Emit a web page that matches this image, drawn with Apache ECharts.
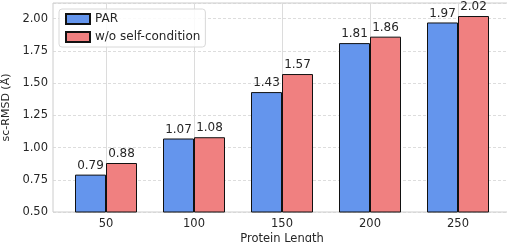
<!DOCTYPE html>
<html>
<head>
<meta charset="utf-8">
<script src="https://cdn.jsdelivr.net/npm/echarts@6/dist/echarts.min.js"></script>
<style>
  html, body { margin: 0; padding: 0; background: #fff; }
  #chart { width: 507px; height: 242px; }
</style>
</head>
<body>
<div id="chart"></div>
<script>
var lengths = ['50', '100', '150', '200', '250'];
var parValues = [0.79, 1.07, 1.43, 1.81, 1.97];
var noSelfCondValues = [0.88, 1.08, 1.57, 1.86, 2.02];
var seriesNames = ['PAR', 'w/o self-condition'];

var FONT = 'DejaVu Sans';
var TEXT = '#262626';

var chart = echarts.init(document.getElementById('chart'));

function barSeries(name, data, color) {
  return {
    name: name,
    type: 'bar',
    xAxisIndex: 1,
    yAxisIndex: 1,
    data: data,
    barWidth: 31,
    barGap: '0%',
    itemStyle: { color: color, borderColor: '#111', borderWidth: 1 },
    label: {
      show: true,
      position: 'top',
      distance: 3,
      fontFamily: FONT,
      fontSize: 12,
      color: TEXT,
      formatter: function(p) { return p.value.toFixed(2); }
    }
  };
}

chart.setOption({
  animation: false,
  textStyle: { fontFamily: FONT },
  legend: {
    data: seriesNames,
    icon: 'rect',
    orient: 'vertical',
    left: 59,
    top: 9,
    itemWidth: 24,
    itemHeight: 10,
    itemGap: 6,
    padding: [4, 5, 4, 6],
    backgroundColor: 'rgba(255,255,255,0.85)',
    borderColor: '#d8d8d8',
    borderWidth: 1,
    borderRadius: 3,
    textStyle: { fontFamily: FONT, fontSize: 12, color: TEXT }
  },
  grid: [
    { left: 53, right: -4, top: 3, bottom: 30, outerBoundsMode: 'none', containLabel: false,
      show: true, borderColor: '#cccccc', borderWidth: 1, backgroundColor: 'transparent' },
    { left: 106, right: 49, top: 3, bottom: 30, outerBoundsMode: 'none', containLabel: false }
  ],
  xAxis: [
    {
      gridIndex: 0, type: 'value', min: 0, max: 1,
      axisLine: { show: false }, axisTick: { show: false },
      axisLabel: { show: false }, splitLine: { show: false },
      name: 'Protein Length', nameLocation: 'middle', nameGap: 21,
      nameTextStyle: { fontFamily: FONT, fontSize: 11.5, color: TEXT }
    },
    {
      gridIndex: 1, type: 'category', data: lengths, boundaryGap: false,
      axisLine: { show: false }, axisTick: { show: false },
      axisLabel: { fontFamily: FONT, fontSize: 11.5, color: TEXT, margin: 6 },
      splitLine: { show: true, lineStyle: { color: '#dcdcdc', width: 1 } }
    }
  ],
  yAxis: [
    {
      gridIndex: 0, type: 'value', min: 0.5, max: 2.121, interval: 0.25,
      axisLine: { show: false }, axisTick: { show: false },
      axisLabel: {
        fontFamily: FONT, fontSize: 11.5, color: TEXT, margin: 5,
        showMaxLabel: false,
        formatter: function(v) { return v.toFixed(2); }
      },
      splitLine: { show: true, lineStyle: { color: '#d4d4d4', type: [3, 2], width: 0.8 } },
      name: 'sc-RMSD (Å)', nameLocation: 'middle', nameGap: 36,
      nameTextStyle: { fontFamily: FONT, fontSize: 11, color: TEXT }
    },
    {
      gridIndex: 1, type: 'value', min: 0.5, max: 2.121,
      show: false, splitLine: { show: false }
    }
  ],
  series: [
    barSeries(seriesNames[0], parValues, '#6495ED'),
    barSeries(seriesNames[1], noSelfCondValues, '#F08080')
  ]
});
</script>
</body>
</html>
